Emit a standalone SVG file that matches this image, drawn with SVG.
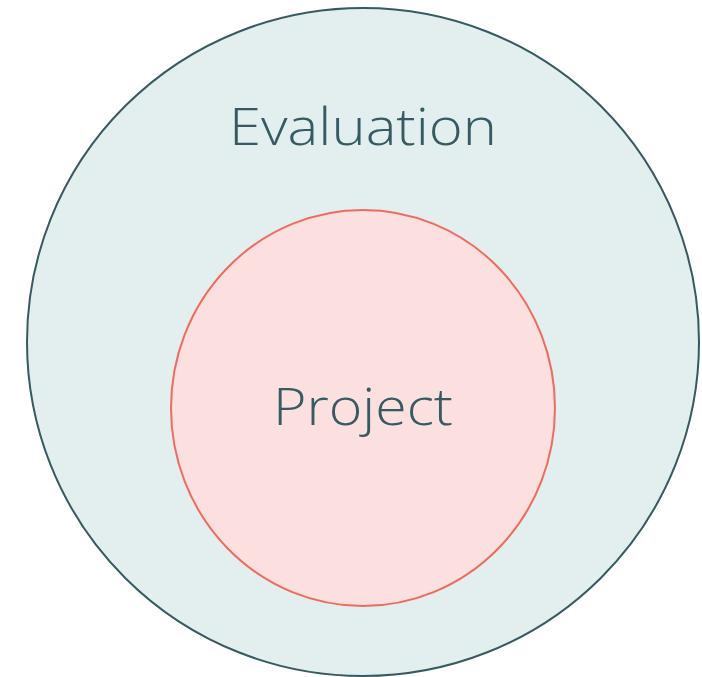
<svg xmlns="http://www.w3.org/2000/svg" width="702" height="677" viewBox="0 0 702 677">
<style>
.lbl{font-family:"Open Sans","Noto Sans","Liberation Sans",sans-serif;font-weight:300;fill:#355a61;text-anchor:middle}
</style>
<rect width="702" height="677" fill="#ffffff"/>
<g id="evaluation">
<ellipse cx="363" cy="342" rx="336" ry="334" fill="#e3eeee" stroke="#355a61" stroke-width="2"/>
<text class="lbl" x="363" y="145" font-size="52" textLength="268" lengthAdjust="spacingAndGlyphs">Evaluation</text>
</g>
<g id="project">
<ellipse cx="363" cy="408" rx="192" ry="198" fill="#fbe0df" stroke="#ef6b5f" stroke-width="2"/>
<text class="lbl" x="363" y="425" font-size="52" textLength="180" lengthAdjust="spacingAndGlyphs">Project</text>
</g>
<g id="connectors"></g>
</svg>
